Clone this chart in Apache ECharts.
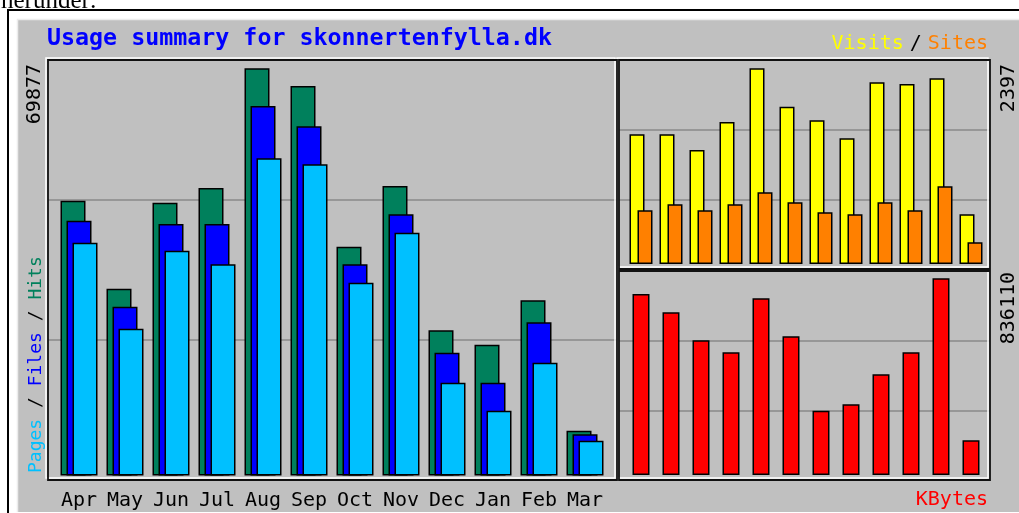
<!DOCTYPE html>
<html>
<head>
<meta charset="utf-8">
<script src="https://cdn.jsdelivr.net/npm/echarts@6/dist/echarts.min.js"></script>
<style>
  html, body { margin: 0; padding: 0; background: #fff; }
  #chart { width: 1019px; height: 513px; }
</style>
</head>
<body>
<div id="chart"></div>
<script>
// monthly usage
const months = ['Apr', 'May', 'Jun', 'Jul', 'Aug', 'Sep', 'Oct', 'Nov', 'Dec', 'Jan', 'Feb', 'Mar'];
const hits   = [47160, 32060, 46810, 49340, 69877, 66840, 39260, 49680, 24920, 22450, 30070, 7690];
const files  = [43720, 28970, 43160, 43160, 63410, 59920, 36260, 44820, 21070, 15930, 26290, 7070];
const pages  = [39950, 25190, 38580, 36260, 54430, 53400, 33080, 41660, 15930, 11120, 19360, 5970];
const visits = [1589, 1589, 1396, 1739, 2397, 1927, 1760, 1540, 2226, 2205, 2275, 609];
const sites  = [658, 731, 658, 731, 878, 756, 633, 609, 756, 658, 952, 266];
const kbytes = [769380, 691590, 572570, 521560, 751100, 589570, 273320, 300530, 428050, 521560, 836110, 147500];

const hitsMaxLabel = '69877';
const visitsMaxLabel = '2397';
const kbytesMaxLabel = '836110';

const mono = '"DejaVu Sans Mono", monospace';
const chart = echarts.init(document.getElementById('chart'));

// the outlined boxes + dividing lines (3 equal parts each)
function boxAxes(gridIndex) {
  return {
    x: { type: 'value', gridIndex: gridIndex, min: 0, max: 1, show: false },
    y: {
      type: 'value', gridIndex: gridIndex, min: 0, max: 3, interval: 1,
      axisLine: { show: false }, axisTick: { show: false }, axisLabel: { show: false },
      splitLine: { show: true, lineStyle: { color: '#8a8a8a', width: 1.5 } }
    }
  };
}
const boxes = [boxAxes(3), boxAxes(4), boxAxes(5)];

function catAxis(gridIndex, labels) {
  return {
    type: 'category', gridIndex: gridIndex, data: months,
    axisLine: { show: false }, axisTick: { show: false },
    axisLabel: labels ? { show: true, color: '#000', fontFamily: mono, fontSize: 20, margin: 15, interval: 0 } : { show: false }
  };
}
function valAxis(gridIndex, max) {
  return { type: 'value', gridIndex: gridIndex, min: 0, max: max, show: false, splitLine: { show: false } };
}

function bar(name, data, axis, color, width, gap) {
  return {
    name: name, type: 'bar', data: data,
    xAxisIndex: axis, yAxisIndex: axis,
    barWidth: width, barGap: gap,
    itemStyle: { color: color, borderColor: '#000', borderWidth: 1.5 },
    silent: true
  };
}

function frame(x, y, w, h) {
  return [
    { type: 'rect', z: 50, shape: { x: x - 2, y: y - 2, width: w, height: h },
      style: { fill: null, stroke: '#fff', lineWidth: 1.5 } },
    { type: 'rect', z: 51, shape: { x: x, y: y, width: w, height: h },
      style: { fill: null, stroke: '#111', lineWidth: 1.8 } }
  ];
}

const option = {
  animation: false,
  backgroundColor: '#fff',
  grid: [
    { left: 56, top: 60, width: 552, height: 415.5 },
    { left: 626, top: 60, width: 360, height: 204 },
    { left: 626, top: 270, width: 360, height: 205 },
    { left: 48, top: 60, width: 569, height: 420 },
    { left: 619, top: 60, width: 371, height: 209 },
    { left: 619, top: 271, width: 371, height: 209 }
  ],
  xAxis: [catAxis(0, true), catAxis(1, false), catAxis(2, false), boxes[0].x, boxes[1].x, boxes[2].x],
  yAxis: [valAxis(0, 71300), valAxis(1, 2499), valAxis(2, 871400), boxes[0].y, boxes[1].y, boxes[2].y],
  series: [
    bar('Hits', hits, 0, '#00805c', 25, '-76%'),
    bar('Files', files, 0, '#0000ff', 25, '-76%'),
    bar('Pages', pages, 0, '#00c0ff', 25, '-76%'),
    bar('Visits', visits, 1, '#ffff00', 15, '-46.7%'),
    bar('Sites', sites, 1, '#ff8000', 15, '-46.7%'),
    bar('KBytes', kbytes, 2, '#ff0000', 17, '-46.7%')
  ],
  graphic: [
    // page bits around the image
    { type: 'text', z: -10, x: 1, y: 14,
      style: { text: 'herunder:', fontFamily: '"Liberation Serif", serif', fontSize: 25, fill: '#000', verticalAlign: 'bottom' } },
    { type: 'rect', z: -10, shape: { x: 8, y: 10, width: 1040, height: 540 },
      style: { fill: '#fff', stroke: '#000', lineWidth: 2 } },
    { type: 'rect', z: -9, shape: { x: 17, y: 19, width: 1030, height: 493 },
      style: { fill: '#c0c0c0', stroke: null } },
    { type: 'polyline', z: -8, shape: { points: [[17.5, 512], [17.5, 19.5], [1019, 19.5]] },
      style: { fill: null, stroke: '#ececec', lineWidth: 1.5 } },
    ...frame(48, 60, 569, 420),
    ...frame(619, 60, 371, 209),
    ...frame(619, 271, 371, 209),
    // titles and legends
    { type: 'text', z: 60, x: 47, y: 39,
      style: { text: 'Usage summary for skonnertenfylla.dk', fontFamily: mono, fontWeight: 'bold', fontSize: 23.3,
               fill: '#0000ff', verticalAlign: 'middle' } },
    { type: 'text', z: 60, x: 988, y: 44,
      style: { text: '{v|Visits}{s|/}{t|Sites}', align: 'right', verticalAlign: 'middle',
               rich: {
                 v: { fontFamily: mono, fontSize: 20, fill: '#ffff00' },
                 s: { fontFamily: mono, fontSize: 20, fill: '#000', padding: [0, 6] },
                 t: { fontFamily: mono, fontSize: 20, fill: '#ff8000' }
               } } },
    { type: 'text', z: 60, x: 988, y: 500,
      style: { text: 'KBytes', fontFamily: mono, fontSize: 20, fill: '#ff0000', align: 'right', verticalAlign: 'middle' } },
    { type: 'text', z: 60, x: 36, y: 473, rotation: Math.PI / 2,
      style: { text: '{p|Pages}{s| / }{f|Files}{s| / }{h|Hits}', align: 'left', verticalAlign: 'middle',
               rich: {
                 p: { fontFamily: mono, fontSize: 18, fill: '#00c0ff' },
                 s: { fontFamily: mono, fontSize: 18, fill: '#000' },
                 f: { fontFamily: mono, fontSize: 18, fill: '#0000ff' },
                 h: { fontFamily: mono, fontSize: 18, fill: '#00805c' }
               } } },
    { type: 'text', z: 60, x: 35, y: 64, rotation: Math.PI / 2,
      style: { text: hitsMaxLabel, fontFamily: mono, fontSize: 20, fill: '#000', align: 'right', verticalAlign: 'middle' } },
    { type: 'text', z: 60, x: 1009, y: 64, rotation: Math.PI / 2,
      style: { text: visitsMaxLabel, fontFamily: mono, fontSize: 20, fill: '#000', align: 'right', verticalAlign: 'middle' } },
    { type: 'text', z: 60, x: 1009, y: 272, rotation: Math.PI / 2,
      style: { text: kbytesMaxLabel, fontFamily: mono, fontSize: 20, fill: '#000', align: 'right', verticalAlign: 'middle' } }
  ]
};

chart.setOption(option);
</script>
</body>
</html>
